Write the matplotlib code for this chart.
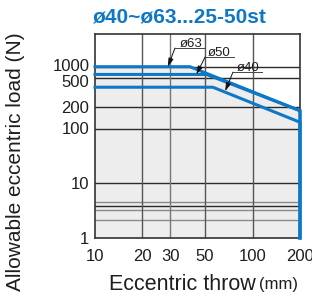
import numpy as np
import matplotlib
matplotlib.use("Agg")
import matplotlib.pyplot as plt
from matplotlib.transforms import ScaledTranslation

plt.rcParams['font.family'] = ['Liberation Sans', 'DejaVu Sans']

# ---- data ----
title = "ø40~ø63...25-50st"
x_ticks = [10, 20, 30, 50, 100, 200]
y_ticks = [1, 10, 100, 200, 500, 1000]
y_grid = [2, 3, 4, 5, 10, 100, 200, 500, 1000]
x_grid = [20, 30, 50, 100]

phi63_x = [10, 40, 200, 200]
phi63_y = [1000, 1000, 176, 1]
phi50_x = [10, 51, 200, 200]
phi50_y = [630, 630, 176, 1]
phi40_x = [10, 56, 200, 200]
phi40_y = [375, 375, 122, 1]

labels = ["ø63", "ø50", "ø40"]
label_tips = [(29, 1000), (44, 630), (67, 330)]

# chart's own (hand-drawn) vertical scale: value -> position
SC_VAL = np.log10([0.1, 1, 2, 3, 4, 5, 10, 100, 200, 500, 1000, 10000])
SC_POS = np.array([-55, 0, 18, 28, 32.3, 36.3, 54.7, 109.5, 131.3, 159.7, 171.3, 226.3])

def fwd(v):
    v = np.clip(np.asarray(v, dtype=float), 1e-3, None)
    return np.interp(np.log10(v), SC_VAL, SC_POS)

def inv(p):
    return 10 ** np.interp(np.asarray(p, dtype=float), SC_POS, SC_VAL)

BLUE = "#0e78c6"
TXT = "#1e1e1e"

fig = plt.figure(figsize=(3.12, 3.0), dpi=100)
ax = fig.add_axes([95/312, 1 - 238/300, 205/312, 204/300])
ax.set_xscale('log')
ax.set_yscale('function', functions=(fwd, inv))
ax.set_xlim(10, 200)
ax.set_ylim(1, inv(204))

ax.fill_between(phi63_x, 1, phi63_y, color="#ededed", zorder=0, linewidth=0)

for v in y_grid:
    c = "#2a2a2a" if v in (4, 10, 100, 200, 500, 1000) else "#8a8a8a"
    ax.axhline(v, color=c, lw=1.0, zorder=1)
for v in x_grid:
    c = "#555555" if v in (20, 50, 100) else "#777777"
    ax.axvline(v, color=c, lw=1.0, zorder=1)

for xs, ys in [(phi63_x, phi63_y), (phi50_x, phi50_y), (phi40_x, phi40_y)]:
    ax.plot(xs, ys, color=BLUE, lw=2.2, zorder=3, solid_joinstyle='miter', clip_on=False)

ax.set_xticks(x_ticks)
ax.set_xticklabels([str(t) for t in x_ticks])
ax.set_yticks(y_ticks)
ax.set_yticklabels([str(t) for t in y_ticks])
ax.xaxis.set_minor_locator(matplotlib.ticker.NullLocator())
ax.yaxis.set_minor_locator(matplotlib.ticker.NullLocator())
ax.tick_params(axis='both', length=0, labelsize=12, colors=TXT)
ax.tick_params(axis='y', pad=4)
ax.tick_params(axis='x', pad=8)
for s in ax.spines.values():
    s.set_color("#333333")
    s.set_linewidth(1.2)

# nudge the crowded 1000 / 500 labels apart, as in the original
fig.canvas.draw()
for lab in ax.get_yticklabels():
    t = lab.get_text()
    if t == "1000":
        lab.set_transform(lab.get_transform() + ScaledTranslation(0, 2/100, fig.dpi_scale_trans))
    elif t == "500":
        lab.set_transform(lab.get_transform() + ScaledTranslation(0, -3/100, fig.dpi_scale_trans))

# annotations: text pos, underline start (axes fraction)
text_pos = [(0.468, 0.953), (0.605, 0.909), (0.746, 0.835)]
under_pos = [(0.39, 0.931), (0.537, 0.887), (0.673, 0.813)]
for lab, tip, tp, up in zip(labels, label_tips, text_pos, under_pos):
    ax.text(tp[0], tp[1], lab, transform=ax.transAxes, ha='center', va='center',
            fontsize=9.5, color=TXT, zorder=5)
    ax.plot([up[0], up[0] + 0.14], [up[1], up[1]], transform=ax.transAxes,
            color="#444444", lw=0.7, zorder=5, clip_on=False)
    ax.annotate("", xy=tip, xycoords='data', xytext=up, textcoords='axes fraction',
                arrowprops=dict(arrowstyle='-|>,head_length=0.5,head_width=0.15',
                                color="#111111", lw=0.7, shrinkA=0, shrinkB=0), zorder=6)

fig.text(93/312, 1 - 17/300, title, color=BLUE, fontsize=15, fontweight='bold',
         ha='left', va='center')
fig.text(16/312, 1 - 162/300, "Allowable eccentric load (N)", rotation=90,
         ha='center', va='center', fontsize=15, color=TXT)
fig.text(256/312, 1 - 284/300, "Eccentric throw", ha='right', va='center',
         fontsize=15.5, color=TXT)
fig.text(259/312, 1 - 285/300, "(mm)", ha='left', va='center',
         fontsize=12, color=TXT)

fig.savefig("out.png", dpi=100)
